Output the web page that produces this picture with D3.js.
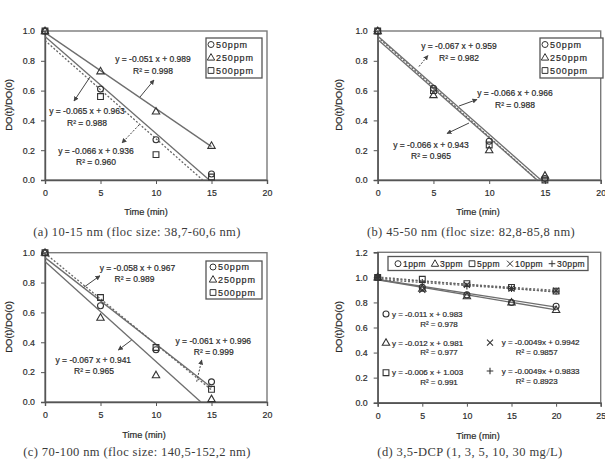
<!DOCTYPE html>
<html><head><meta charset="utf-8">
<script src="https://cdn.jsdelivr.net/npm/d3@7"></script>
<style>
html,body{margin:0;padding:0;background:#fff;}
svg{display:block;}
text{font-family:"Liberation Sans",Arial,sans-serif;fill:#2a2a2a;stroke:#2a2a2a;stroke-width:0.2px;}
.cap{font-family:"Liberation Serif","Times New Roman",serif;fill:#3a3a3a;stroke:none;}
</style></head>
<body>
<script>
// ---------------- DATA ----------------
const timeABC = [0, 5, 10, 15];
const seriesABC = ["50ppm", "250ppm", "500ppm"];
const yTicks1 = [0, 0.2, 0.4, 0.6, 0.8, 1.0];
const xTicks20 = [0, 5, 10, 15, 20];

// (a) 10-15 nm
const a50  = [1.0, 0.61, 0.27, 0.04];
const a250 = [1.0, 0.73, 0.46, 0.23];
const a500 = [1.0, 0.56, 0.17, 0.02];
// fitted lines [x0, y0, x1, y1]
const aFits = [[0, 0.989, 15, 0.224], [0, 0.963, 14.8, 0], [0, 0.936, 14.2, 0]];
const aEq = [["y = -0.051 x + 0.989", "R\u00B2 = 0.998"],
             ["y = -0.065 x + 0.963", "R\u00B2 = 0.988"],
             ["y = -0.066 x + 0.936", "R\u00B2 = 0.960"]];

// (b) 45-50 nm
const b50  = [1.0, 0.615, 0.26, 0.01];
const b250 = [1.0, 0.57, 0.20, 0.03];
const b500 = [1.0, 0.60, 0.235, 0.0];
const bFits = [[0, 0.959, 14.31, 0], [0, 0.966, 14.64, 0], [0, 0.943, 14.29, 0]];
const bEq = [["y = -0.067 x + 0.959", "R\u00B2 = 0.982"],
             ["y = -0.066 x + 0.966", "R\u00B2 = 0.988"],
             ["y = -0.066 x + 0.943", "R\u00B2 = 0.965"]];

// (c) 70-100 nm
const c50  = [1.0, 0.645, 0.35, 0.135];
const c250 = [1.0, 0.565, 0.18, 0.02];
const c500 = [1.0, 0.70, 0.365, 0.085];
const cFits = [[0, 0.967, 15, 0.097], [0, 0.941, 14.04, 0], [0, 0.996, 15, 0.081]];
const cEq = [["y = -0.058 x + 0.967", "R\u00B2 = 0.989"],
             ["y = -0.067 x + 0.941", "R\u00B2 = 0.965"],
             ["y = -0.061 x + 0.996", "R\u00B2 = 0.999"]];

// (d) 3,5-DCP
const timeD = [0, 5, 10, 15, 20];
const seriesD = ["1ppm", "3ppm", "5ppm", "10ppm", "30ppm"];
const yTicksD = [0, 0.2, 0.4, 0.6, 0.8, 1.0, 1.2];
const xTicks25 = [0, 5, 10, 15, 20, 25];
const dcp1  = [1.0, 0.92, 0.86, 0.80, 0.77];
const dcp3  = [1.0, 0.91, 0.85, 0.80, 0.74];
const dcp5  = [1.0, 0.985, 0.95, 0.92, 0.89];
const dcp10 = [1.0, 0.90, 0.94, 0.91, 0.895];
const dcp30 = [1.0, 0.96, 0.93, 0.91, 0.89];
const dFits = [[0, 0.983, 20, 0.763], [0, 0.981, 20, 0.741], [0, 1.003, 20, 0.883], [0, 0.9942, 20, 0.896], [0, 0.9833, 20, 0.885]];
const dEq = [["y = -0.011 x + 0.983", "R\u00B2 = 0.978"],
             ["y = -0.012 x + 0.981", "R\u00B2 = 0.977"],
             ["y = -0.006 x + 1.003", "R\u00B2 = 0.991"],
             ["y = -0.0049x + 0.9942", "R\u00B2 = 0.9857"],
             ["y = -0.0049x + 0.9833", "R\u00B2 = 0.8923"]];

const captions = ["(a) 10-15 nm (floc size: 38,7-60,6 nm)",
                  "(b) 45-50 nm (floc size: 82,8-85,8 nm)",
                  "(c) 70-100 nm (floc size: 140,5-152,2 nm)",
                  "(d) 3,5-DCP (1, 3, 5, 10, 30 mg/L)"];
const yTitle = "DO(t)/DO(0)";
const xTitle = "Time (min)";

// ---------------- DRAW ----------------
const W = 605, H = 462;
const svg = d3.select("body").append("svg").attr("width", W).attr("height", H);
const defs = svg.append("defs");
defs.append("marker").attr("id", "ah").attr("viewBox", "0 0 10 10")
  .attr("refX", 9).attr("refY", 5).attr("markerWidth", 5).attr("markerHeight", 5)
  .attr("orient", "auto-start-reverse")
  .append("path").attr("d", "M0,0L10,5L0,10Z").attr("fill", "#444");

const shapes = {
  circle: "M3,0A3,3 0 1,1 -3,0A3,3 0 1,1 3,0Z",
  triangle: "M0,-3.9L3.7,2.6L-3.7,2.6Z",
  square: "M-2.9,-2.9H2.9V2.9H-2.9Z",
  x: "M-3,-3L3,3M-3,3L3,-3",
  plus: "M-3.3,0H3.3M0,-3.3V3.3"
};
const SOLID = null, DOT = "2,1.8";

function drawPanel(p) {
  const g = svg.append("g");
  const x = d3.scaleLinear().domain(p.xDomain).range(p.xRange);
  const y = d3.scaleLinear().domain(p.yDomain).range(p.yRange);

  g.append("rect").attr("x", p.xRange[0]).attr("y", p.yRange[1])
    .attr("width", p.xRange[1] - p.xRange[0]).attr("height", p.yRange[0] - p.yRange[1])
    .attr("fill", "none").attr("stroke", "#7a7a7a").attr("stroke-width", 1.4);

  const ax = g.append("g").attr("transform", `translate(0,${p.yRange[0]})`)
    .call(d3.axisBottom(x).tickValues(p.xTicks).tickSize(4).tickPadding(6).tickFormat(d3.format("d")));
  const ay = g.append("g").attr("transform", `translate(${p.xRange[0]},0)`)
    .call(d3.axisLeft(y).tickValues(p.yTicks).tickSize(4).tickPadding(6).tickFormat(d3.format(".1f")));
  [ax, ay].forEach(a => {
    a.select(".domain").attr("stroke", "#555").attr("stroke-width", 1.4);
    a.selectAll(".tick line").attr("stroke", "#555").attr("stroke-width", 1);
    a.selectAll(".tick text").attr("fill", "#333").style("font-size", "8.8px")
      .style("stroke", "#333").style("stroke-width", "0.2px")
      .style("font-family", "'Liberation Sans',Arial,sans-serif");
  });

  g.append("text").attr("x", p.xTitlePos[0]).attr("y", p.xTitlePos[1]).attr("text-anchor", "middle")
    .style("font-size", "9.2px").text(xTitle);
  g.append("text").attr("transform", `translate(${p.yTitlePos[0]},${p.yTitlePos[1]}) rotate(-90)`)
    .attr("text-anchor", "middle").style("font-size", "9.5px").text(yTitle);

  p.fits.forEach((f, i) => {
    g.append("line").attr("x1", x(f[0])).attr("y1", y(f[1])).attr("x2", x(f[2])).attr("y2", y(f[3]))
      .attr("stroke", p.fitDash[i] ? "#666" : "#6e6e6e").attr("stroke-width", 1.3)
      .attr("stroke-dasharray", p.fitDash[i]);
  });

  p.series.forEach((s) => {
    g.append("g").selectAll("path").data(s.values).join("path")
      .attr("transform", (v, i) => `translate(${x(p.time[i])},${y(v)})`)
      .attr("d", shapes[s.shape]).attr("fill", "none").attr("stroke", "#333").attr("stroke-width", 1.1);
  });

  p.eqs.forEach((e, i) => {
    const a = p.eqPos[i];
    const anchor = a.anchor || "middle";
    g.append("text").attr("x", a.x).attr("y", a.y + 3).attr("text-anchor", anchor)
      .style("font-size", p.eqFont).text(e[0]);
    g.append("text").attr("x", a.rx).attr("y", a.ry + 3).attr("text-anchor", "middle")
      .style("font-size", p.eqFont).text(e[1]);
    if (a.arrow) {
      g.append("line").attr("x1", a.arrow[0]).attr("y1", a.arrow[1]).attr("x2", a.arrow[2]).attr("y2", a.arrow[3])
        .attr("stroke", "#444").attr("stroke-width", 1).attr("stroke-dasharray", a.dash || null)
        .attr("marker-end", "url(#ah)");
    }
    if (a.mark) {
      g.append("path").attr("transform", `translate(${a.mark[0]},${a.mark[1]})`)
        .attr("d", shapes[a.mark[2]]).attr("fill", "none").attr("stroke", "#333").attr("stroke-width", 1.1);
    }
  });

  const L = p.legend;
  g.append("rect").attr("x", L.x).attr("y", L.y).attr("width", L.w).attr("height", L.h)
    .attr("fill", "#fff").attr("stroke", "#555").attr("stroke-width", 1.3);
  p.series.forEach((s, i) => {
    const it = L.items[i];
    g.append("path").attr("transform", `translate(${it[0]},${it[1]})`).attr("d", shapes[s.shape])
      .attr("fill", "none").attr("stroke", "#333").attr("stroke-width", 1);
    g.append("text").attr("x", it[0] + L.gap).attr("y", it[1] + 3.2).style("font-size", L.font)
      .style("letter-spacing", L.ls).text(s.name);
  });

  svg.append("text").attr("class", "cap").attr("x", p.capPos[0]).attr("y", p.capPos[1])
    .attr("text-anchor", "middle").style("font-size", "12.5px").style("letter-spacing", "0.4px").text(p.caption);
}

const shapesABC = ["circle", "triangle", "square"];
const mk = (vals) => vals.map((v, i) => ({ name: seriesABC[i], shape: shapesABC[i], values: v }));
const legABC = (x0, y0, w, rows) => ({ x: x0, y: y0, w: w, h: 40, gap: 5, font: "9px", ls: "0.9px",
  items: rows.map(r => [x0 + 5, r]) });

drawPanel({
  xDomain: [0, 20], xRange: [45, 267], yDomain: [0, 1], yRange: [180, 31],
  xTicks: xTicks20, yTicks: yTicks1, time: timeABC,
  series: mk([a50, a250, a500]), fits: aFits, fitDash: [SOLID, SOLID, DOT],
  eqs: aEq, eqFont: "8.5px",
  eqPos: [
    { x: 153, y: 59, rx: 153, ry: 71, arrow: [140, 97, 154, 80] },
    { x: 87, y: 111, rx: 87, ry: 123, arrow: [90, 77, 74, 101] },
    { x: 96, y: 151, rx: 96, ry: 162, arrow: [139, 125, 122, 143], dash: "2,1.5" }
  ],
  legend: legABC(206, 38, 56, [44.5, 57.5, 70.5]),
  xTitlePos: [146, 215], yTitlePos: [12, 105],
  capPos: [137, 236], caption: captions[0]
});

drawPanel({
  xDomain: [0, 20], xRange: [377.7, 600.7], yDomain: [0, 1], yRange: [180, 31],
  xTicks: xTicks20, yTicks: yTicks1, time: timeABC,
  series: mk([b50, b250, b500]), fits: bFits, fitDash: [DOT, SOLID, SOLID],
  eqs: bEq, eqFont: "8.5px",
  eqPos: [
    { x: 459, y: 46, rx: 459, ry: 58, arrow: [419, 66.5, 428, 55.5], dash: "2,1.5" },
    { x: 515, y: 93, rx: 515, ry: 104.5, arrow: [459, 106, 477, 99.5] },
    { x: 431, y: 145, rx: 431, ry: 156, arrow: [469, 123, 447, 133.5] }
  ],
  legend: legABC(540, 38, 63, [44.5, 57.5, 70.5]),
  xTitlePos: [478, 215], yTitlePos: [342, 105],
  capPos: [471, 236], caption: captions[1]
});

drawPanel({
  xDomain: [0, 20], xRange: [45, 267], yDomain: [0, 1], yRange: [402, 252.7],
  xTicks: xTicks20, yTicks: yTicks1, time: timeABC,
  series: mk([c50, c250, c500]), fits: cFits, fitDash: [SOLID, SOLID, DOT],
  eqs: cEq, eqFont: "8.5px",
  eqPos: [
    { x: 137.5, y: 268.3, rx: 134.5, ry: 279.3, arrow: [83.5, 287.5, 100, 275.7] },
    { x: 93.3, y: 360, rx: 94, ry: 371, arrow: [131.7, 340, 118.3, 350] },
    { x: 213.3, y: 341, rx: 213.8, ry: 352.3, arrow: [196.7, 381.7, 201.7, 360], dash: "2,1.5" }
  ],
  legend: { x: 206, y: 261, w: 56, h: 38, gap: 5, font: "9px", ls: "0.9px",
    items: [[213, 267], [213, 279.5], [213, 292.5]] },
  xTitlePos: [144, 438], yTitlePos: [12, 327],
  capPos: [137, 456], caption: captions[2]
});

const shapesD = ["circle", "triangle", "square", "x", "plus"];
drawPanel({
  xDomain: [0, 25], xRange: [377.7, 600.7], yDomain: [0, 1.2], yRange: [402.7, 252.3],
  xTicks: xTicks25, yTicks: yTicksD, time: timeD,
  series: [dcp1, dcp3, dcp5, dcp10, dcp30].map((v, i) => ({ name: seriesD[i], shape: shapesD[i], values: v })),
  fits: dFits, fitDash: [SOLID, SOLID, DOT, DOT, DOT],
  eqs: dEq, eqFont: "8px",
  eqPos: [
    { x: 392, y: 314, anchor: "start", rx: 439, ry: 324, mark: [386, 314, "circle"] },
    { x: 392, y: 342.5, anchor: "start", rx: 439, ry: 352.3, mark: [386, 342.7, "triangle"] },
    { x: 392, y: 372, anchor: "start", rx: 439, ry: 381.5, mark: [386, 372.7, "square"] },
    { x: 501.7, y: 342, anchor: "start", rx: 536.7, ry: 351.7, mark: [490, 342.7, "x"] },
    { x: 501.7, y: 371, anchor: "start", rx: 536.7, ry: 381, mark: [490, 371, "plus"] }
  ],
  legend: { x: 388, y: 256.5, w: 200, h: 14, gap: 5, font: "8.5px", ls: "0.4px",
    items: [[398, 263.7], [435, 263.7], [472, 263.7], [510, 263.7], [552, 263.7]] },
  xTitlePos: [478, 439], yTitlePos: [342, 327],
  capPos: [470, 456], caption: captions[3]
});
</script>
</body></html>
